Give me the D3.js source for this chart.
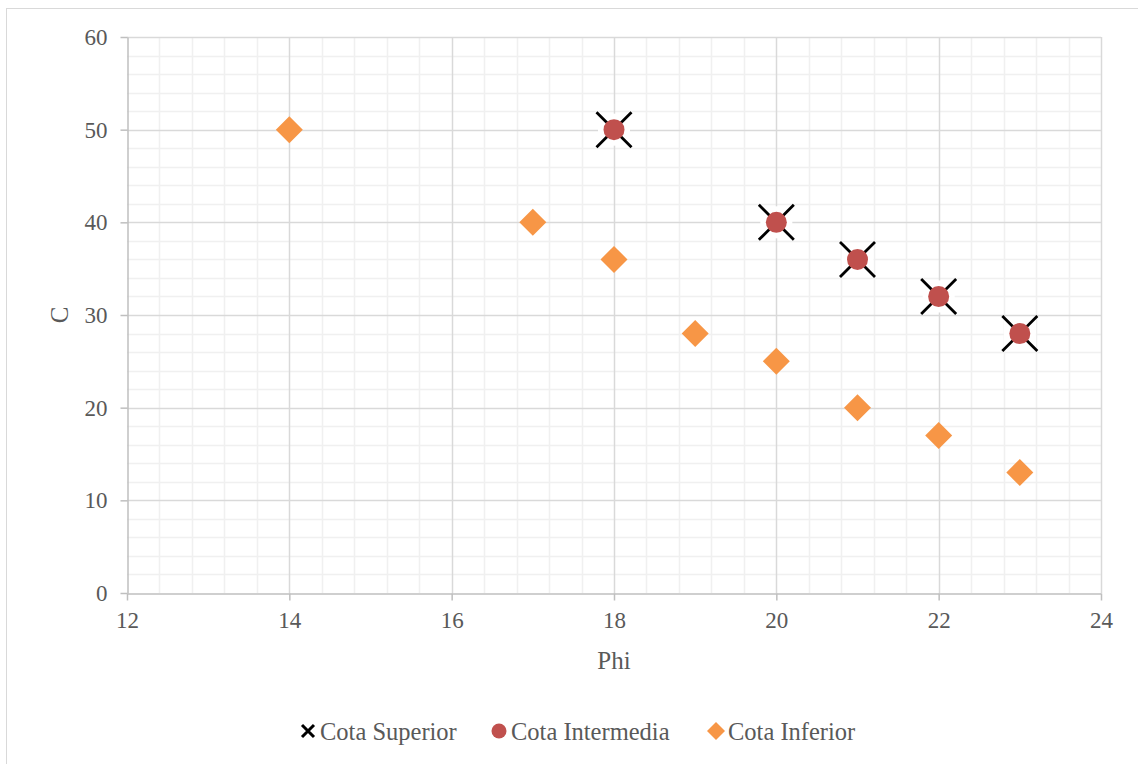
<!DOCTYPE html>
<html><head><meta charset="utf-8">
<script src="https://cdn.jsdelivr.net/npm/d3@7"></script>
<style>body{margin:0;background:#fff}svg{display:block}</style>
</head><body>
<script>
const seriesNames = ["Cota Superior", "Cota Intermedia", "Cota Inferior"];
const superiorPhi = [18, 20, 21, 22, 23];
const superiorC   = [50, 40, 36, 32, 28];
const intermediaPhi = [18, 20, 21, 22, 23];
const intermediaC   = [50, 40, 36, 32, 28];
const inferiorPhi = [14, 17, 18, 19, 20, 21, 22, 23];
const inferiorC   = [50, 40, 36, 28, 25, 20, 17, 13];
const xTicks = [12, 14, 16, 18, 20, 22, 24];
const yTicks = [0, 10, 20, 30, 40, 50, 60];
const xTitle = "Phi", yTitle = "C";

const W = 1138, H = 764;
const font = "'Liberation Serif', 'DejaVu Serif', serif";
const svg = d3.select("body").append("svg").attr("width", W).attr("height", H);
svg.append("rect").attr("x", 6.5).attr("y", 8.5).attr("width", W).attr("height", H)
  .attr("fill", "#fff").attr("stroke", "#d9d9d9").attr("stroke-width", 1);

const L = 127, R = 1101, T = 37, B = 593;
const x = d3.scaleLinear().domain([12, 24]).range([L, R]);
const y = d3.scaleLinear().domain([0, 60]).range([B, T]);

const g = svg.append("g");
const xMinor = d3.range(12, 24.001, 0.4).filter(v => Math.abs(v / 2 - Math.round(v / 2)) > 1e-6);
const yMinor = d3.range(0, 60.001, 2).filter(v => v % 10 !== 0);
g.selectAll(".xmin").data(xMinor).join("line")
  .attr("x1", d => Math.round(x(d)) + 0.5).attr("x2", d => Math.round(x(d)) + 0.5)
  .attr("y1", T).attr("y2", B).attr("stroke", "#f0f0f0").attr("stroke-width", 1.5);
g.selectAll(".ymin").data(yMinor).join("line")
  .attr("y1", d => Math.round(y(d)) + 0.5).attr("y2", d => Math.round(y(d)) + 0.5)
  .attr("x1", L).attr("x2", R).attr("stroke", "#f0f0f0").attr("stroke-width", 1.5);
g.selectAll(".xmaj").data(xTicks.slice(1)).join("line")
  .attr("x1", d => Math.round(x(d)) + 0.5).attr("x2", d => Math.round(x(d)) + 0.5)
  .attr("y1", T).attr("y2", B).attr("stroke", "#d9d9d9").attr("stroke-width", 1.5);
g.selectAll(".ymaj").data(yTicks.slice(1)).join("line")
  .attr("y1", d => Math.round(y(d)) + 0.5).attr("y2", d => Math.round(y(d)) + 0.5)
  .attr("x1", L).attr("x2", R).attr("stroke", "#d9d9d9").attr("stroke-width", 1.5);

const xAxis = svg.append("g").attr("transform", `translate(0,${B + 0.5})`)
  .call(d3.axisBottom(x).tickValues(xTicks).tickSizeInner(7).tickSizeOuter(0).tickPadding(11));
const yAxis = svg.append("g").attr("transform", `translate(${L + 0.5},0)`)
  .call(d3.axisLeft(y).tickValues(yTicks).tickSizeInner(7).tickSizeOuter(0).tickPadding(13));
[xAxis, yAxis].forEach(a => {
  a.select(".domain").attr("stroke", "#bfbfbf").attr("stroke-width", 1.5);
  a.selectAll(".tick line").attr("stroke", "#bfbfbf").attr("stroke-width", 1.5);
  a.selectAll(".tick text").attr("fill", "#595959").style("font-family", font).style("font-size", "23px");
});

svg.append("text").attr("x", (L + R) / 2).attr("y", 669).attr("text-anchor", "middle")
  .attr("fill", "#595959").style("font-family", font).style("font-size", "25px").text(xTitle);
svg.append("text").attr("transform", `translate(68,${(T + B) / 2}) rotate(-90)`).attr("text-anchor", "middle")
  .attr("fill", "#595959").style("font-family", font).style("font-size", "25px").text(yTitle);

function diamondPath(s) { return `M0,${-s}L${s},0L0,${s}L${-s},0Z`; }
function xPath(s) { return `M${-s},${-s}L${s},${s}M${-s},${s}L${s},${-s}`; }

const sup = superiorPhi.map((p, i) => ({ p, c: superiorC[i] }));
const mid = intermediaPhi.map((p, i) => ({ p, c: intermediaC[i] }));
const inf = inferiorPhi.map((p, i) => ({ p, c: inferiorC[i] }));

const sg = svg.append("g");
sg.selectAll("rect").data(sup).join("rect")
  .attr("x", d => x(d.p) - 16).attr("y", d => y(d.c) - 16).attr("width", 32).attr("height", 32).attr("fill", "#fff");
sg.selectAll("path").data(sup).join("path")
  .attr("transform", d => `translate(${x(d.p)},${y(d.c)})`)
  .attr("d", xPath(17.5)).attr("stroke", "#000").attr("stroke-width", 2.8).attr("fill", "none");
svg.append("g").selectAll("circle").data(mid).join("circle")
  .attr("cx", d => x(d.p)).attr("cy", d => y(d.c)).attr("r", 10.5).attr("fill", "#C0504D");
svg.append("g").selectAll("path").data(inf).join("path")
  .attr("transform", d => `translate(${x(d.p)},${y(d.c)})`)
  .attr("d", diamondPath(13.5)).attr("fill", "#F79646");

const legY = 731;
const leg = [
  { name: seriesNames[0], mx: 308, tx: 320 },
  { name: seriesNames[1], mx: 499, tx: 511 },
  { name: seriesNames[2], mx: 716, tx: 728 }
];
svg.append("path").attr("transform", `translate(${leg[0].mx},${legY})`).attr("d", xPath(6))
  .attr("stroke", "#000").attr("stroke-width", 3).attr("fill", "none");
svg.append("circle").attr("cx", leg[1].mx).attr("cy", legY).attr("r", 7.5).attr("fill", "#C0504D");
svg.append("path").attr("transform", `translate(${leg[2].mx},${legY})`).attr("d", diamondPath(9)).attr("fill", "#F79646");
svg.selectAll(".legt").data(leg).join("text")
  .attr("x", d => d.tx).attr("y", legY).attr("dy", "0.35em")
  .attr("fill", "#595959").style("font-family", font).style("font-size", "24.5px").text(d => d.name);
</script>
</body></html>
